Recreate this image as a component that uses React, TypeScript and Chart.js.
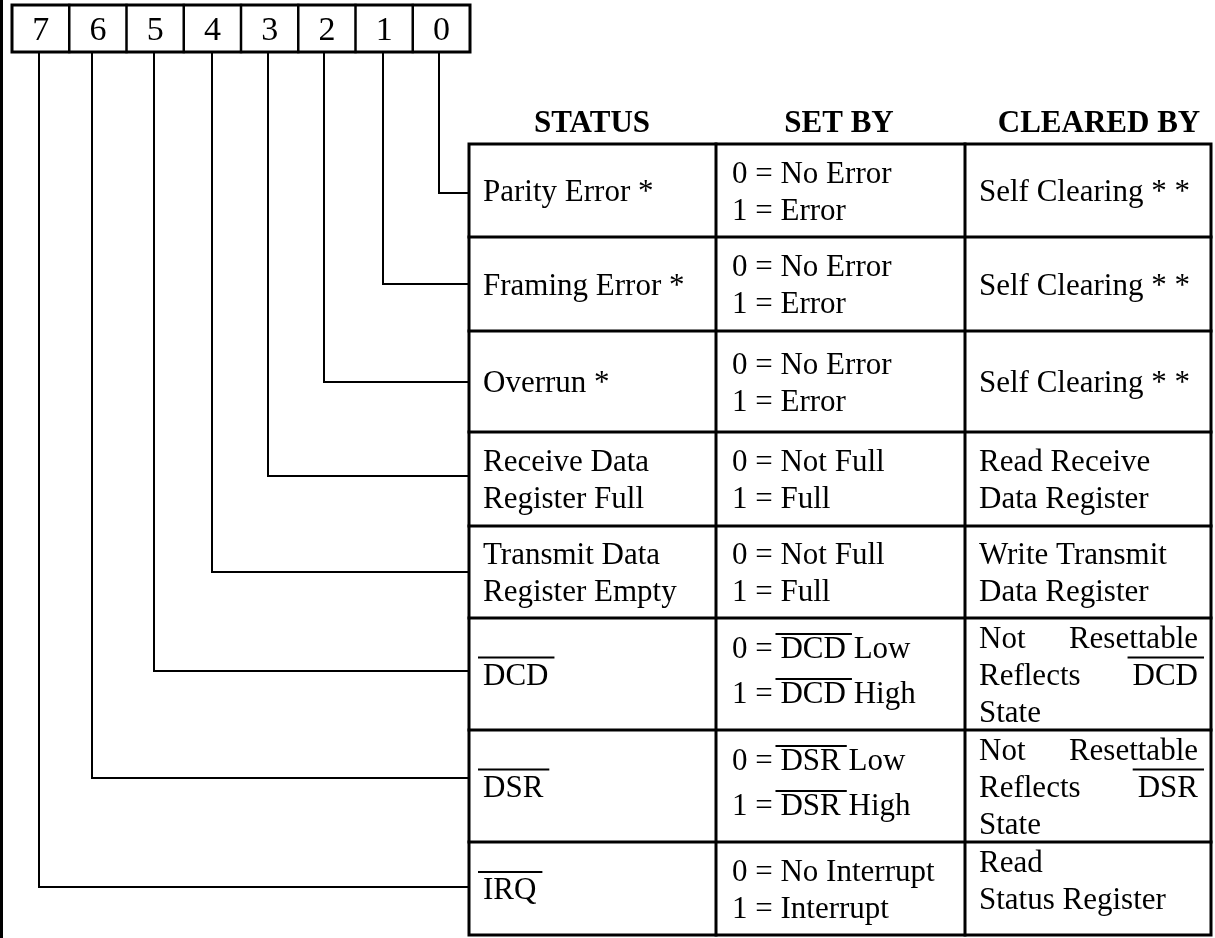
import React, { useEffect, useRef } from 'react';
import { Chart, registerables } from 'chart.js';

Chart.register(...registerables);

// ---------- data ----------
const bitLabels = ['7', '6', '5', '4', '3', '2', '1', '0'];
const headers = ['STATUS', 'SET BY', 'CLEARED BY'];
// rows top to bottom are bits 0..7; "~X~" = overlined, "a|b" = justified line
const statusNames: string[][] = [
  ['Parity Error *'],
  ['Framing Error *'],
  ['Overrun *'],
  ['Receive Data', 'Register Full'],
  ['Transmit Data', 'Register Empty'],
  ['~DCD~'],
  ['~DSR~'],
  ['~IRQ~'],
];
const setBy: string[][] = [
  ['0 = No Error', '1 = Error'],
  ['0 = No Error', '1 = Error'],
  ['0 = No Error', '1 = Error'],
  ['0 = Not Full', '1 = Full'],
  ['0 = Not Full', '1 = Full'],
  ['0 = ~DCD~ Low', '1 = ~DCD~ High'],
  ['0 = ~DSR~ Low', '1 = ~DSR~ High'],
  ['0 = No Interrupt', '1 = Interrupt'],
];
const clearedBy: string[][] = [
  ['Self Clearing * *'],
  ['Self Clearing * *'],
  ['Self Clearing * *'],
  ['Read Receive', 'Data Register'],
  ['Write Transmit', 'Data Register'],
  ['Not|Resettable', 'Reflects|~DCD~', 'State'],
  ['Not|Resettable', 'Reflects|~DSR~', 'State'],
  ['Read', 'Status Register'],
];
const rowBits = [0, 1, 2, 3, 4, 5, 6, 7];

// ---------- layout (diagram coordinates) ----------
const W = 1215;
const H = 938;
const BOX_L = 12, BOX_R = 470, BOX_T = 5, BOX_B = 52;
const BIT_LINE_X = [39, 92, 154, 212, 268, 324, 383, 439]; // same order as bitLabels
const ROW_EDGES = [144, 237, 331, 432, 526, 618, 730, 842, 935];
const COL_EDGES = [469, 716, 965, 1211];
const CONNECTOR_Y = [193, 284, 382, 476, 572, 671, 778, 887];
const HEADER_X = [592, 839, 1099];
const HEADER_Y = 132;
const TEXT_PAD = [14, 16, 14];
const RIGHT_PAD = 13;
const FONT = "'Liberation Serif', 'Times New Roman', serif";
const FS = 31;

type P = { x: number; y: number };

function seg(points: P[], width: number) {
  return {
    type: 'line' as const,
    data: points,
    borderColor: '#000',
    borderWidth: width,
    pointRadius: 0,
    pointHoverRadius: 0,
    tension: 0,
    fill: false,
    showLine: true,
    clip: false as any,
    borderCapStyle: 'square' as const,
    borderJoinStyle: 'miter' as const,
  };
}

function buildDatasets() {
  const ds: any[] = [];
  // left frame line
  ds.push(seg([{ x: 1.5, y: 0 }, { x: 1.5, y: H }], 3));
  // bit box
  ds.push(seg([
    { x: BOX_L, y: BOX_T }, { x: BOX_R, y: BOX_T }, { x: BOX_R, y: BOX_B },
    { x: BOX_L, y: BOX_B }, { x: BOX_L, y: BOX_T },
  ], 3));
  const cw = (BOX_R - BOX_L) / bitLabels.length;
  for (let i = 1; i < bitLabels.length; i++) {
    const x = BOX_L + i * cw;
    ds.push(seg([{ x, y: BOX_T }, { x, y: BOX_B }], 2.5));
  }
  // table
  const tl = COL_EDGES[0], tr = COL_EDGES[COL_EDGES.length - 1];
  const tt = ROW_EDGES[0], tb = ROW_EDGES[ROW_EDGES.length - 1];
  ds.push(seg([{ x: tl, y: tt }, { x: tr, y: tt }, { x: tr, y: tb }, { x: tl, y: tb }, { x: tl, y: tt }], 3));
  for (let r = 1; r < ROW_EDGES.length - 1; r++) {
    ds.push(seg([{ x: tl, y: ROW_EDGES[r] }, { x: tr, y: ROW_EDGES[r] }], 3));
  }
  for (let c = 1; c < COL_EDGES.length - 1; c++) {
    ds.push(seg([{ x: COL_EDGES[c], y: tt }, { x: COL_EDGES[c], y: tb }], 3));
  }
  // connectors
  rowBits.forEach((bit, r) => {
    const idx = bitLabels.indexOf(String(bit));
    const x = BIT_LINE_X[idx];
    const y = CONNECTOR_Y[r];
    const s = seg([{ x, y: BOX_B }, { x, y }, { x: tl, y }], 2);
    (s as any).borderCapStyle = 'butt';
    ds.push(s);
  });
  return ds;
}

const textPlugin = {
  id: 'diagramText',
  afterDatasetsDraw(chart: any) {
    const ctx: CanvasRenderingContext2D = chart.ctx;
    const xs = chart.scales.x;
    const ys = chart.scales.y;
    const px = (v: number) => xs.getPixelForValue(v);
    const py = (v: number) => ys.getPixelForValue(v);
    ctx.save();
    ctx.fillStyle = '#000';
    ctx.strokeStyle = '#000';
    ctx.textBaseline = 'alphabetic';

    // bit labels
    ctx.font = `34px ${FONT}`;
    ctx.textAlign = 'center';
    const cw = (BOX_R - BOX_L) / bitLabels.length;
    bitLabels.forEach((b, i) => {
      ctx.fillText(b, px(BOX_L + (i + 0.5) * cw), py(40));
    });

    // headers
    ctx.font = `bold ${FS}px ${FONT}`;
    headers.forEach((h, i) => ctx.fillText(h, px(HEADER_X[i]), py(HEADER_Y)));

    ctx.font = `${FS}px ${FONT}`;
    ctx.textAlign = 'left';

    const drawRich = (text: string, x: number, base: number, ovOff: number) => {
      const parts = text.split('~');
      let cx = x;
      parts.forEach((p, k) => {
        if (!p) return;
        const w = ctx.measureText(p).width;
        ctx.fillText(p, cx, base);
        if (k % 2 === 1) {
          ctx.lineWidth = 2;
          ctx.beginPath();
          ctx.moveTo(cx - 5, base - ovOff);
          ctx.lineTo(cx + w + 6, base - ovOff);
          ctx.stroke();
        }
        cx += w;
      });
    };
    const richWidth = (text: string) =>
      text.split('~').reduce((a, p) => a + (p ? ctx.measureText(p).width : 0), 0);

    const columns = [statusNames, setBy, clearedBy];
    columns.forEach((col, c) => {
      col.forEach((lines, r) => {
        const top = ROW_EDGES[r], bot = ROW_EDGES[r + 1];
        const center = (top + bot) / 2;
        const hasOv = lines.some((l) => l.includes('~'));
        const L = c === 1 && hasOv ? 45 : 37;
        const dy = c === 2 && r === 7 ? -9 : c === 1 && hasOv ? -4 : 0;
        const n = lines.length;
        lines.forEach((line, i) => {
          const base = center + 10.5 + (i - (n - 1) / 2) * L + dy;
          const left = COL_EDGES[c] + TEXT_PAD[c];
          const right = COL_EDGES[c + 1] - RIGHT_PAD;
          const ovOff = c === 1 ? 24 : 27;
          if (line.includes('|')) {
            const [a, b] = line.split('|');
            drawRich(a, px(left), py(base), ovOff);
            const wb = richWidth(b);
            drawRich(b, px(right) - wb, py(base), ovOff);
          } else {
            drawRich(line, px(left), py(base), ovOff);
          }
        });
      });
    });
    ctx.restore();
  },
};

export default function App() {
  const ref = useRef<HTMLCanvasElement | null>(null);
  useEffect(() => {
    if (!ref.current) return;
    const chart = new Chart(ref.current, {
      type: 'scatter',
      data: { datasets: buildDatasets() },
      options: {
        animation: false,
        responsive: false,
        devicePixelRatio: 1,
        events: [],
        layout: { padding: 0 },
        scales: {
          x: { type: 'linear', min: 0, max: W, display: false },
          y: { type: 'linear', min: 0, max: H, reverse: true, display: false },
        },
        plugins: {
          legend: { display: false },
          tooltip: { enabled: false },
        },
      },
      plugins: [textPlugin],
    } as any);
    return () => chart.destroy();
  }, []);
  return (
    <div style={{ position: 'absolute', left: 0, top: 0, width: W, height: H, background: '#fff' }}>
      <canvas ref={ref} width={W} height={H} style={{ width: W, height: H, display: 'block' }} />
    </div>
  );
}
